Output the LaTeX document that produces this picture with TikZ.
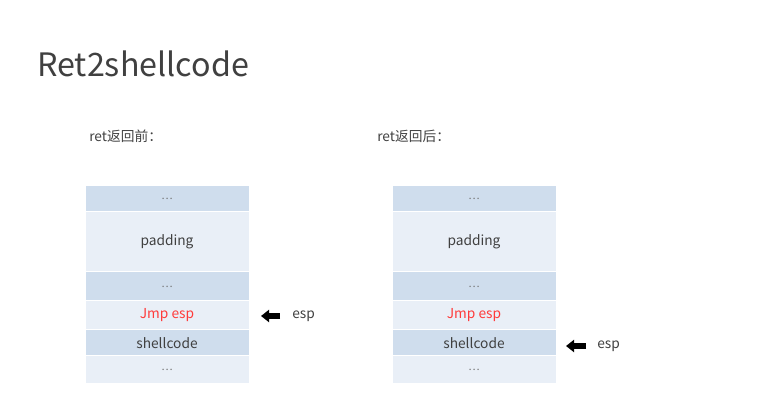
\documentclass[tikz,border=0pt]{standalone}
\usepackage{fontspec}
\setmainfont{Noto Sans CJK SC}
\usetikzlibrary{positioning, arrows.meta}

\definecolor{rowdark}{HTML}{CFDDED}
\definecolor{rowlight}{HTML}{E9EFF7}
\definecolor{txtgray}{HTML}{404040}
\definecolor{dotgray}{HTML}{707070}
\definecolor{jmpred}{HTML}{FF3B3B}

\tikzset{
  cell/.style={draw=white, line width=0.75pt, minimum width=123pt,
    inner sep=0pt, outer sep=0pt, text=txtgray, font=\fontsize{10.3}{12}\selectfont},
  darkcell/.style={cell, fill=rowdark},
  lightcell/.style={cell, fill=rowlight},
  dots/.style={text=dotgray, font=\fontsize{8}{10}\selectfont},
  esplabel/.style={inner sep=0pt, text=txtgray, font=\fontsize{10.3}{12}\selectfont, anchor=west},
  espline/.style={line width=3.9pt, -{Triangle[length=6pt, width=9pt]}}
}

\begin{document}
\begin{tikzpicture}[x=0.75pt, y=-0.75pt]
  \useasboundingbox (0,0) rectangle (758,416);

  % title and captions
  \node[anchor=base west, inner sep=0pt, text=txtgray, font=\fontsize{24.2}{28}\selectfont] (title) at (37,77) {Ret2shellcode};
  \node[anchor=west, inner sep=0pt, text=txtgray, font=\fontsize{10.3}{12}\selectfont] (capL) at (89,136) {ret返回前：};
  \node[anchor=west, inner sep=0pt, text=txtgray, font=\fontsize{10.3}{12}\selectfont] (capR) at (377,136) {ret返回后：};

  % stack before ret
  \node[darkcell, anchor=north west, minimum height=19.5pt, dots] (lTop) at (85,186) {…};
  \node[lightcell, minimum height=45pt, below=0pt of lTop] (lPad) {padding};
  \node[darkcell, minimum height=21.75pt, below=0pt of lPad, dots] (lMid) {…};
  \node[lightcell, minimum height=21.75pt, below=0pt of lMid, text=jmpred] (lJmp) {Jmp esp};
  \node[darkcell, minimum height=19.5pt, below=0pt of lJmp] (lShell) {shellcode};
  \node[lightcell, minimum height=21pt, below=0pt of lShell, dots] (lBot) {…};

  % stack after ret
  \node[darkcell, anchor=north west, minimum height=19.5pt, dots] (rTop) at (392,186) {…};
  \node[lightcell, minimum height=45pt, below=0pt of rTop] (rPad) {padding};
  \node[darkcell, minimum height=21.75pt, below=0pt of rPad, dots] (rMid) {…};
  \node[lightcell, minimum height=21.75pt, below=0pt of rMid, text=jmpred] (rJmp) {Jmp esp};
  \node[darkcell, minimum height=19.5pt, below=0pt of rJmp] (rShell) {shellcode};
  \node[lightcell, minimum height=21pt, below=0pt of rShell, dots] (rBot) {…};

  % esp pointers
  \node[esplabel] (lEsp) at (292,316) {esp};
  \node[esplabel] (rEsp) at (597,346) {esp};
  \draw[espline, shorten <=9pt, shorten >=9pt] (lEsp.west) -- (lJmp.east |- lEsp.west);
  \draw[espline, shorten <=8.25pt, shorten >=7.5pt] (rEsp.west) -- (rShell.east |- rEsp.west);
\end{tikzpicture}
\end{document}
